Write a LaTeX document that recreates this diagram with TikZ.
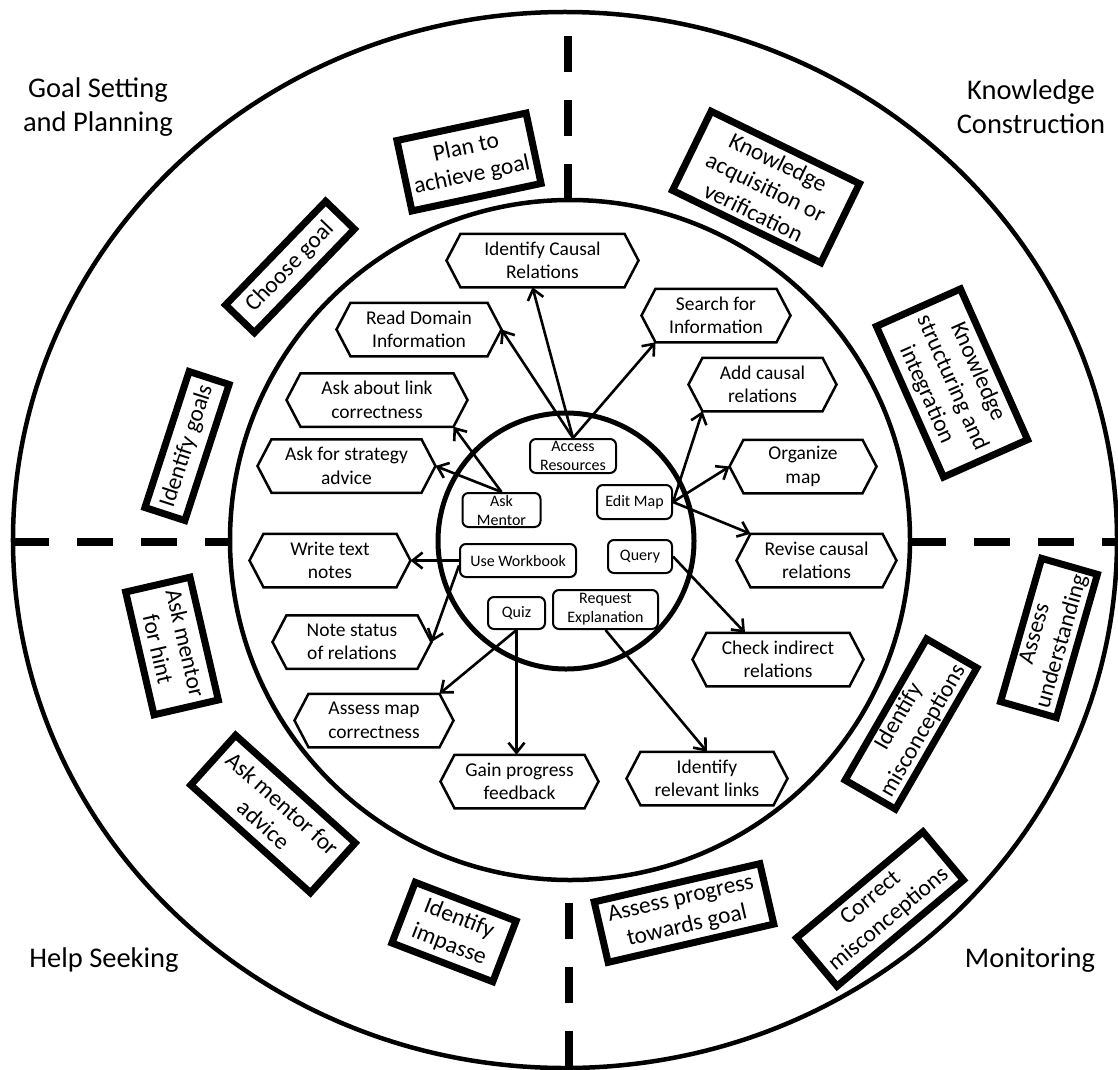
\documentclass[tikz,border=0pt]{standalone}
\usepackage{fontspec}
\setmainfont{Carlito}
\usetikzlibrary{arrows.meta}
\newcommand\labfont{\fontsize{28.5bp}{34bp}\selectfont}
\newcommand\hexfont{\fontsize{19.5bp}{23.5bp}\selectfont}
\newcommand\obfont{\fontsize{23.5bp}{28bp}\selectfont}
\newcommand\ibfont{\fontsize{16bp}{19bp}\selectfont}
\tikzset{
  lab/.style={font=\labfont, align=center, inner sep=0pt},
  hexbox/.style={font=\hexfont, align=center, inner sep=0pt, outer sep=0pt, minimum height=53.5bp},
  hexline/.style={draw, line width=2.5bp, line join=miter},
  obox/.style={draw, line width=7bp, font=\obfont, align=center, inner sep=0pt, fill=white},
  ibox/.style={draw, rounded corners=6bp, line width=2bp, font=\ibfont, align=center, inner sep=0pt, fill=white},
  arr/.style={line width=2.6bp, -{Straight Barb[length=10bp, width=16bp]}},
  dashline/.style={line width=8.5bp, dash pattern=on 36bp off 28bp},
  ring/.style={line width=4.5bp}
}
\newcommand\hexa[5]{%
  \node[hexbox, minimum width=#4bp] (#1) at (#2,#3) {#5};
  \draw[hexline] ([xshift=14bp]#1.north west) -- ([xshift=-14bp]#1.north east) -- (#1.east)
    -- ([xshift=-14bp]#1.south east) -- ([xshift=14bp]#1.south west) -- (#1.west) -- cycle;
}
\begin{document}
\begin{tikzpicture}[x=1bp, y=-1bp]
\useasboundingbox (0,0) rectangle (1118,1070);
\fill[white] (0,0) rectangle (1118,1070);

% rings
\draw[ring] (565,540) ellipse [x radius=552bp, y radius=528bp];
\draw[ring] (570,540) circle [radius=340bp];
\draw[line width=5bp] (566,541) circle [radius=128bp];

% dashed separators
\draw[dashline] (568,200) -- (568,14);
\draw[dashline] (569,1067) -- (569,880);
\draw[dashline] (13,542) -- (230,542);
\draw[dashline] (910,542) -- (1118,542);

% quadrant labels
\node[lab] (gs) at (98,107) {Goal Setting\\and Planning};
\node[lab] (kc) at (1031,107) {Knowledge\\Construction};
\node[lab] (hs) at (104,960) {Help Seeking};
\node[lab] (mo) at (1030,960) {Monitoring};

% outer ring boxes
\node[obox, minimum width=132bp, minimum height=72bp, rotate=12] (pg) at (469,162) {Plan to\\achieve goal};
\node[obox, minimum width=144bp, minimum height=40bp, rotate=46] (cg) at (290,267) {Choose goal};
\node[obox, minimum width=165bp, minimum height=88bp, rotate=-26] (ka) at (766,187) {Knowledge\\acquisition or\\verification};
\node[obox, minimum width=165bp, minimum height=92bp, rotate=-66] (ks) at (952,383) {Knowledge\\structuring and\\integration};
\node[obox, minimum width=143bp, minimum height=42bp, rotate=72] (ig) at (187,446) {Identify goals};
\node[obox, minimum width=126bp, minimum height=66bp, rotate=-77] (amh) at (172,646) {Ask mentor\\for hint};
\node[obox, minimum width=161bp, minimum height=67bp, rotate=-42] (ama) at (273,814) {Ask mentor for\\advice};
\node[obox, minimum width=108bp, minimum height=65bp, rotate=-21] (ii) at (454,932) {Identify\\impasse};
\node[obox, minimum width=170bp, minimum height=62bp, rotate=13] (ap) at (684,913) {Assess progress\\towards goal};
\node[obox, minimum width=165bp, minimum height=63bp, rotate=40] (cm) at (880,909) {Correct\\misconceptions};
\node[obox, minimum width=163bp, minimum height=58bp, rotate=60] (im) at (911,724) {Identify\\misconceptions};
\node[obox, minimum width=149bp, minimum height=58bp, rotate=74] (au) at (1049,638) {Assess\\understanding};

% hexagons (middle ring)
\hexa{ic}{542.5}{260.5}{192}{Identify Causal\\Relations}
\hexa{rd}{419}{329.5}{165}{Read Domain\\Information}
\hexa{sf}{716}{315.5}{149}{Search for\\Information}
\hexa{al}{377}{400}{181}{Ask about link\\correctness}
\hexa{ac}{762.5}{384.5}{148}{Add causal\\relations}
\hexa{as}{346.5}{466}{178}{Ask for strategy\\advice}
\hexa{om}{803}{466.5}{147}{Organize\\map}
\hexa{wt}{330}{560.5}{161}{Write text\\notes}
\hexa{rv}{816.5}{560.5}{160}{Revise causal\\relations}
\hexa{ns}{352}{642}{159}{Note status\\of relations}
\hexa{ci}{778}{659.5}{171}{Check indirect\\relations}
\hexa{am}{374}{720.5}{159}{Assess map\\correctness}
\hexa{gp}{519.5}{781.5}{158}{Gain progress\\feedback}
\hexa{ir}{707}{778.5}{161}{Identify\\relevant links}

% inner boxes
\node[ibox, minimum width=86bp, minimum height=34bp] (ar) at (573,456) {Access\\Resources};
\node[ibox, minimum width=78bp, minimum height=34bp] (amn) at (501.5,510) {Ask\\Mentor};
\node[ibox, minimum width=75bp, minimum height=34bp] (em) at (634.5,502) {Edit Map};
\node[ibox, minimum width=116bp, minimum height=33bp] (uw) at (518,560.5) {Use Workbook};
\node[ibox, minimum width=64bp, minimum height=33bp] (qu) at (640,556.5) {Query};
\node[ibox, minimum width=57bp, minimum height=32bp] (qz) at (516.5,613) {Quiz};
\node[ibox, minimum width=105bp, minimum height=39bp] (re) at (605.5,609.5) {Request\\Explanation};

% connectors
\draw[arr] (ar.north) -- (rd.east);
\draw[arr] (ar.north) -- ([xshift=-10bp]ic.south);
\draw[arr] (ar.north) -- ([xshift=14bp]sf.south west);
\draw[arr] (amn.north) -- ([xshift=-14bp]al.south east);
\draw[arr] (amn.north) -- (as.east);
\draw[arr] (em.east) -- ([xshift=14bp]ac.south west);
\draw[arr] (em.east) -- (om.west);
\draw[arr] (em.east) -- ([xshift=14bp]rv.north west);
\draw[arr] (uw.west) -- (wt.east);
\draw[arr] ([yshift=-5bp]uw.west) -- (ns.east);
\draw[arr] (qu.east) -- ([xshift=-33bp]ci.north);
\draw[arr] (qz.south) -- (qz.south |- gp.north);
\draw[arr] (qz.south) -- ([xshift=-14bp]am.north east);
\draw[arr] (re.south) -- (ir.north);
\end{tikzpicture}
\end{document}
